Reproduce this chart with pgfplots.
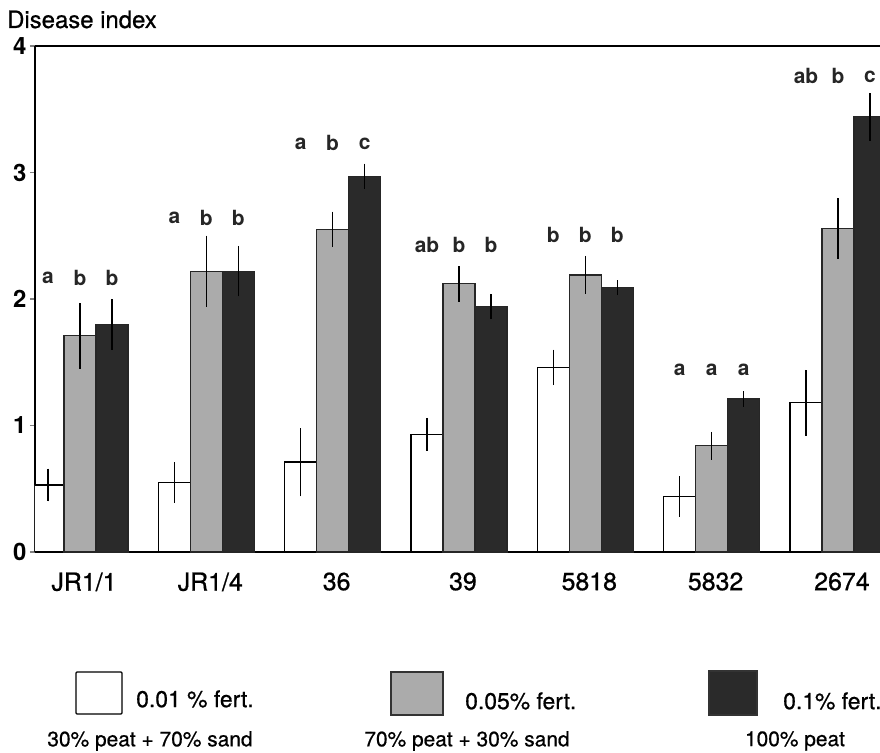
\documentclass[border=0pt]{standalone}
\usepackage{fontspec}
\setmainfont{TeX Gyre Heros}
\newfontfamily\medium[FakeBold=0.7]{TeX Gyre Heros}
\usepackage{pgfplots}
\usepackage{pgfplotstable}
\pgfplotsset{compat=1.18}

\definecolor{screen}{HTML}{ABABAB}
\definecolor{darkscreen}{HTML}{2A2A2A}

% mean disease index and error for each isolate and fertilizer level
\pgfplotstableread{
x  w    we   g    ge   d    de
0  0.53 0.13 1.71 0.26 1.80 0.20
1  0.55 0.16 2.22 0.28 2.22 0.20
2  0.71 0.27 2.55 0.14 2.97 0.10
3  0.93 0.13 2.12 0.14 1.94 0.10
4  1.46 0.14 2.19 0.15 2.09 0.06
5  0.44 0.16 0.84 0.11 1.21 0.06
6  1.18 0.26 2.56 0.24 3.44 0.19
}\data

% significance letters above each group
\pgfplotstableread{
x      y    lab
-0.253 2.17 a
0      2.17 b
0.253  2.17 b
0.747  2.64 a
1      2.64 b
1.253  2.64 b
1.747  3.23 a
2      3.23 b
2.253  3.23 c
2.747  2.43 ab
3      2.43 b
3.253  2.43 b
3.747  2.51 b
4      2.51 b
4.253  2.51 b
4.747  1.44 a
5      1.44 a
5.253  1.44 a
5.747  3.76 ab
6      3.76 b
6.253  3.76 c
}\letters

\begin{document}
\begin{tikzpicture}
\begin{axis}[
  scale only axis,
  width=845bp, height=506bp,
  xmin=-0.356, xmax=6.333,
  ymin=0, ymax=4,
  axis x line*=box, axis y line*=left,
  axis line style={-, line width=1.5bp},
  clip mode=individual,
  xtick={0,...,6},
  xticklabels={JR1/1,JR1/4,36,39,5818,5832,2674},
  major x tick style={draw=none},
  xticklabel style={font=\medium\fontsize{25}{28}\selectfont, yshift=-12bp, xshift=4bp},
  ytick={0,1,2,3,4},
  tick align=outside,
  major tick length=5bp,
  major y tick style={line width=1.2bp},
  /pgf/number format/assume math mode=true,
  yticklabel style={font=\bfseries\fontsize{24}{28}\selectfont, xshift=0bp},
  error bars/error mark=none,
]
\addplot[ybar, bar width=0.253, bar shift=0, fill=white, draw=black, line width=1.4bp,
  error bars/.cd, y dir=both, y explicit, error bar style={line width=1.3bp, black}]
  table[x expr=\thisrow{x}-0.253, y=w, y error=we] \data;
\addplot[ybar, bar width=0.253, bar shift=0, fill=screen, draw=black!85, line width=1.2bp,
  error bars/.cd, y dir=both, y explicit, error bar style={line width=1.3bp, black}]
  table[x=x, y=g, y error=ge] \data;
\addplot[ybar, bar width=0.253, bar shift=0, fill=darkscreen, draw=black!85, line width=1.2bp,
  error bars/.cd, y dir=both, y explicit, error bar style={line width=1.3bp, black}]
  table[x expr=\thisrow{x}+0.253, y=d, y error=de] \data;
\addplot[draw=none, mark=none, nodes near coords, point meta=explicit symbolic,
  nodes near coords style={anchor=center, font=\bfseries\fontsize{21}{24}\selectfont, text=black!85}]
  table[x=x, y=y, meta=lab] \letters;
\coordinate (bl) at (rel axis cs:0,0);
\coordinate (tr) at (rel axis cs:1,1);
\end{axis}

\begin{scope}[shift={(bl)}, x=1bp, y=-1bp, shift={(-35,-552)}]
  % title
  \node[anchor=base west, inner sep=0pt, font=\medium\fontsize{24}{27}\selectfont] at (7,28) {Disease index};
  % legend
  \draw[line width=1.3bp, rounded corners=1bp, fill=white] (76,672) rectangle (122,714);
  \draw[line width=1.1bp, draw=black!80, fill=screen] (391,672) rectangle (443,715);
  \draw[line width=1.1bp, draw=black!80, fill=darkscreen] (709,671) rectangle (757,715);
  \node[anchor=west, inner sep=0pt, font=\medium\fontsize{23}{26}\selectfont] at (136,699) {0.01 \% fert.};
  \node[anchor=west, inner sep=0pt, font=\medium\fontsize{23}{26}\selectfont] at (465,701) {0.05\% fert.};
  \node[anchor=west, inner sep=0pt, font=\medium\fontsize{23}{26}\selectfont] at (783,701) {0.1\% fert.};
  \node[inner sep=0pt, font=\medium\fontsize{21}{24}\selectfont] at (150,741) {30\% peat + 70\% sand};
  \node[inner sep=0pt, font=\medium\fontsize{21}{24}\selectfont] at (467,741) {70\% peat + 30\% sand};
  \node[inner sep=0pt, font=\medium\fontsize{21}{24}\selectfont] at (795,741) {100\% peat};
  % page extent
  \pgfresetboundingbox
  \useasboundingbox (0,0) rectangle (880,753);
\end{scope}
\end{tikzpicture}
\end{document}
